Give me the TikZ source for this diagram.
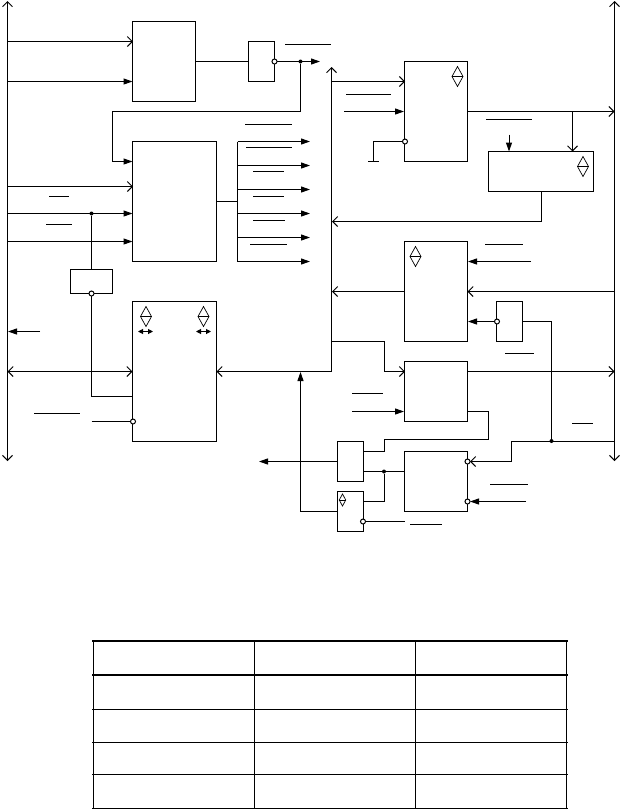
\documentclass[tikz,border=0pt]{standalone}
\usetikzlibrary{arrows.meta,shapes.geometric}
\tikzset{
  blk/.style={draw,rectangle,inner sep=0pt,outer sep=0pt},
  bub/.style={circle,draw,fill=white,inner sep=0pt,minimum size=5pt,outer sep=0pt},
  dot/.style={circle,fill=black,inner sep=0pt,minimum size=4pt},
  rhomb/.style={diamond,draw,inner sep=0pt,outer sep=0pt,aspect=0.55,minimum width=11pt,minimum height=20pt,line width=0.7pt},
  opn/.style={-{Straight Barb[length=5pt,width=10pt]}},
  fil/.style={-{Triangle[length=9pt,width=6pt]}},
  dbl/.style={{Triangle[length=5pt,width=5pt]}-{Triangle[length=5pt,width=5pt]}},
  opnboth/.style={{Straight Barb[length=5pt,width=10pt]}-{Straight Barb[length=5pt,width=10pt]}}
}
\begin{document}
\begin{tikzpicture}[x=1pt,y=-1pt,line width=1pt]
  \useasboundingbox (0,0) rectangle (621,809);
  % blocks
  \node[blk,minimum width=63pt,minimum height=80pt] (A) at (164,61.5) {};
  \node[blk,minimum width=26pt,minimum height=40pt] (B) at (261.5,61.5) {};
  \node[blk,minimum width=84pt,minimum height=120pt] (C) at (174.5,201.5) {};
  \node[blk,minimum width=42pt,minimum height=24pt] (D) at (91.5,281.5) {};
  \node[blk,minimum width=84pt,minimum height=140pt] (E) at (174.5,371.5) {};
  \node[blk,minimum width=63pt,minimum height=100pt] (F) at (436,111.5) {};
  \node[blk,minimum width=105pt,minimum height=40pt] (G) at (541,171.5) {};
  \node[blk,minimum width=63pt,minimum height=100pt] (H) at (436,291.5) {};
  \node[blk,minimum width=26pt,minimum height=40pt] (I) at (509.5,321.5) {};
  \node[blk,minimum width=63pt,minimum height=60pt] (J) at (436,391.5) {};
  \node[blk,minimum width=26pt,minimum height=40pt] (K) at (350.5,461.5) {};
  \node[blk,minimum width=26pt,minimum height=40pt] (L) at (350.5,511.5) {};
  \node[blk,minimum width=63pt,minimum height=60pt] (M) at (436,481.5) {};
  % inversion circles and junctions
  \node[bub] (bB) at (274.5,61.5) {};
  \node[bub] (bD) at (91.5,293.5) {};
  \node[bub] (bE) at (133,421.5) {};
  \node[bub] (bF) at (405,141.5) {};
  \node[bub] (bI) at (497,321.5) {};
  \node[bub] (bL) at (363,521.5) {};
  \node[bub] (bM1) at (467.5,461.5) {};
  \node[bub] (bM2) at (467.5,501.5) {};
  \node[dot] (jB) at (300.5,61.5) {};
  \node[dot] (jC) at (91.5,213.5) {};
  \node[dot] (jK) at (384,471.5) {};
  \node[dot] (jR) at (551.5,441) {};
  % marks inside the blocks
  \foreach \n/\x/\y in {dE1/146/316.5,dE2/203.5/316.5,dF/457.5/76.5,dG/583/166.5,dH/415.5/256.5} {
    \node[rhomb] (\n) at (\x,\y) {};
    \draw[line width=0.7pt] (\n.west) -- (\n.east);
  }
  \node[rhomb,minimum width=6.5pt,minimum height=12pt] (dL) at (342.5,500) {};
  \draw[line width=0.7pt] (dL.west) -- (dL.east);
  % pins
  \foreach \n/\x/\y in {
    lt/7.5/1,lb/7.5/461,rt/614.5/1,rb/614.5/461,mt/331.5/67,mb/331.5/371.5,
    a1/7.5/41.5,a2/7.5/81.5,a3/133/41.5,a4/132.5/81.5,
    c1/7.5/186.5,c2/7.5/213.5,c3/7.5/241.5,c4/133/186.5,c5/132.5/213.5,c6/132.5/241.5,
    o1/320/61.5,n1/112.5/111.5,n2/132.5/161.5,
    f0/237.5/141.5,f1/237.5/165.5,f2/237.5/189.5,f3/237.5/213.5,f4/237.5/237.5,f5/237.5/261.5,fc/237.5/201.5,
    g0/310/141.5,g1/310/165.5,g2/310/189.5,g3/310/213.5,g4/310/237.5,g5/310/261.5,
    e1/40/331.5,e2/8/331.5,e3/7.5/371.5,e4/132.5/396.5,e5/91.5/421.5,e6/91.5/396.5,
    x1/138/331.5,x2/153/331.5,x3/196/331.5,x4/211/331.5,
    u1/300.5/372,v1/259/461.5,
    p1/331.5/81.5,p2/405/81.5,p3/344/111.5,p4/404/111.5,p5/373.5/161.5,
    p6/467.5/111.5,p7/614.5/111.5,p8/572.5/111.5,p9/572.5/151.5,
    q1/509/134.5,q2/509/151.5,q3/541.5/191.5,q4/332/221.5,q5/541.5/221.5,
    h1/531/261.5,h2/468/261.5,h3/332/291.5,h4/614.5/291.5,h5/468/321.5,
    i1/551.5/441.5,
    s1/331.5/341.5,s2/384.5/371.5,s3/405/371.5,s4/352/411.5,s5/404/411.5,
    t1/467.5/371.5,t2/614.5/371.5,t3/467.5/411.5,t4/488.5/439.5,t5/384.5/451.5,t6/363.5/451.5,
    k1/363.5/471.5,k2/404.5/471.5,k3/363.5/501.5,l1/405/521.5,
    r1/614.5/441.5,r2/511.5/461.5,m1/526/501.5} {
    \coordinate (\n) at (\x,\y);
  }
  % buses
  \draw[opnboth] (lb) -- (lt);
  \draw[opnboth] (rb) -- (rt);
  \draw[opn] (mb) -- (mt);
  \draw[opn] (mb) -- (E.east);
  % upper left
  \draw[opn] (a1) -- (a3);
  \draw[fil] (a2) -- (a4);
  \draw (A.east) -- (B.west);
  \draw[fil] (bB) -- (o1);
  \draw[fil] (jB) |- (n1) |- (n2);
  \draw[opn] (c1) -- (c4);
  \draw[fil] (c2) -- (c5);
  \draw[fil] (c3) -- (c6);
  \draw (jC) -- (D.north);
  \draw (C.east) -- (fc);
  \draw (f0) -- (f5);
  \foreach \i in {0,...,5} \draw[fil] (f\i) -- (g\i);
  % lower left
  \draw (bD) -- (e6) -- (e4);
  \draw[fil] (e1) -- (e2);
  \draw[opnboth] (e3) -- (E.west);
  \draw (e5) -- (bE);
  \draw[dbl] (x1) -- (x2);
  \draw[dbl] (x3) -- (x4);
  \draw[fil] (L.west) -| (u1);
  \draw[fil] (K.west) -- (v1);
  % upper right
  \draw[opn] (p1) -- (p2);
  \draw[fil] (p3) -- (p4);
  \draw (bF) -| (p5);
  \draw ([xshift=-5.5pt]p5) -- ([xshift=5.5pt]p5);
  \draw[opn] (p6) -- (p7);
  \draw[opn] (p8) -- (p9);
  \draw[fil] (q1) -- (q2);
  \draw[opn] (q3) |- (q4);
  % middle right
  \draw[fil] (h1) -- (h2);
  \draw[opn] (H.west) -- (h3);
  \draw[opn] (h4) -- (H.east);
  \draw[fil] (bI) -- (h5);
  \draw (I.east) -| (i1);
  % lower right
  \draw[opn] (s1) -| (s2) -- (s3);
  \draw[fil] (s4) -- (s5);
  \draw[opn] (t1) -- (t2);
  \draw (t3) -| (t4) -| (t5) -- (t6);
  \draw (k1) -- (k2);
  \draw (jK) |- (k3);
  \draw (bL) -- (l1);
  \draw[opn] (r1) -| (r2) -- (bM1);
  \draw[fil] (m1) -- (bM2);
  % bars over the missing signal names
  \foreach \a/\b/\y in {285/331/44.5,245/292/124.5,246/292/147.5,253/284/171.5,253/284/196.5,253/285/220.5,250/287/244.5,
    49/69/196.5,46/72/224.5,34/80/413.5,346/391/94.5,486/532/119.5,485/523/244.5,505/534/353.5,
    352/383/393.5,572/593/423.5,490/528/484.5,410/442/524.5} {
    \draw (\a,\y) -- (\b,\y);
  }
  % table
  \foreach \x in {93.5,254.5,415.5,566.5} \draw[line width=1.6pt] (\x,640) -- (\x,808.5);
  \foreach \y in {641,675} \draw[line width=1.6pt] (92,\y) -- (568,\y);
  \foreach \y in {709.5,742.5,774.5,808} \draw (92,\y) -- (568,\y);
\end{tikzpicture}
\end{document}
